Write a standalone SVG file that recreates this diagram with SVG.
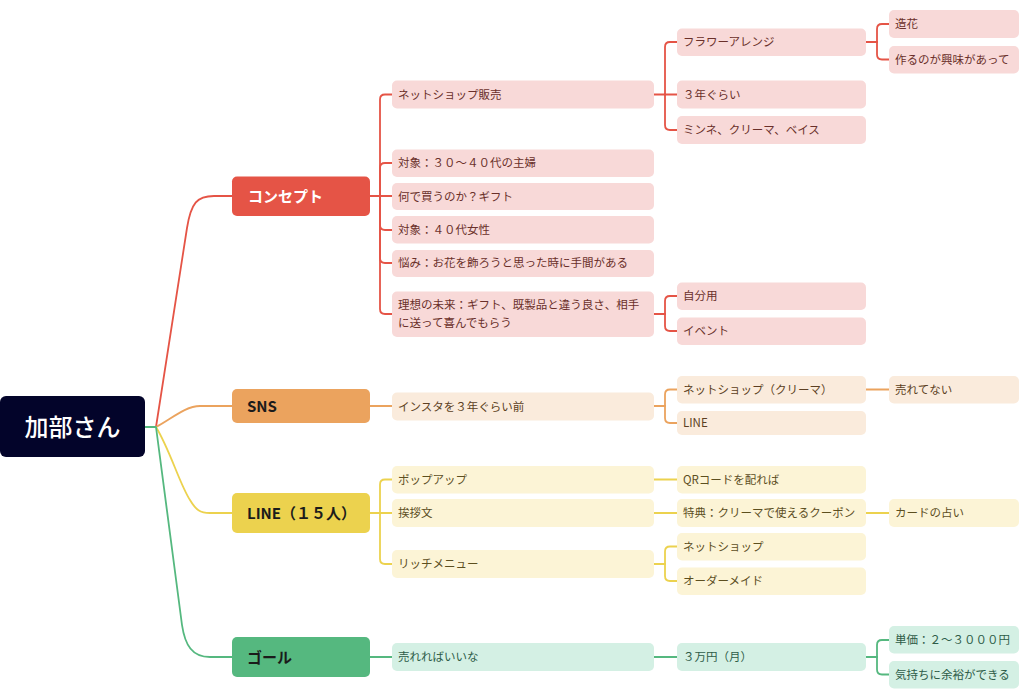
<svg xmlns="http://www.w3.org/2000/svg" width="1024" height="693" viewBox="0 0 1024 693">
<style>
text{font-family:"Noto Sans CJK JP","Noto Sans",sans-serif;}
.t{font-size:11.5px;}
.l1{font-size:15px;font-weight:700;}
.c{fill:none;stroke-width:1.8;stroke-linecap:round;stroke-linejoin:round;}
.cr{stroke:#E55446;} .co{stroke:#EBA35E;} .cy{stroke:#ECD24E;} .cg{stroke:#55B87F;}
.fr{fill:#F8D9D8;} .fo{fill:#FAEBDC;} .fy{fill:#FCF4D6;} .fg{fill:#D4F0E4;}
.tr{fill:#6a302a;} .to{fill:#5c3f22;} .ty{fill:#5c4f1f;} .tg{fill:#2e5c48;}
</style>
<rect width="1024" height="693" fill="#ffffff"/>
<g id="connectors">
<path class="c cr" d="M145 427 L156 427 L187 228 C191 203 197 196 214 196 L232 196"/>
<path class="c co" d="M156 427 C170 420 185 406 200 406 L232 406"/>
<path class="c cy" d="M156 427 C170 450 180 485 190 500 C196 510 200 513 210 513 L232 513"/>
<path class="c cg" d="M145 427 L156 427 L182 625 C185 645 192 657 210 657 L232 657"/>
<!-- concept -->
<path class="c cr" d="M370 196 L380 196"/>
<path class="c cr" d="M380 196 L380 99.5 Q380 94.5 385 94.5 L392 94.5"/>
<path class="c cr" d="M380 196 L380 168 Q380 163 385 163 L392 163"/>
<path class="c cr" d="M380 196 L392 196"/>
<path class="c cr" d="M380 196 L380 225 Q380 230 385 230 L392 230"/>
<path class="c cr" d="M380 196 L380 258 Q380 263 385 263 L392 263"/>
<path class="c cr" d="M380 196 L380 309 Q380 314 385 314 L392 314"/>
<path class="c cr" d="M654 94.5 L665 94.5"/>
<path class="c cr" d="M665 94.5 L665 47 Q665 42 670 42 L677 42"/>
<path class="c cr" d="M665 94.5 L677 94.5"/>
<path class="c cr" d="M665 94.5 L665 125 Q665 130 670 130 L677 130"/>
<path class="c cr" d="M866 42 L877 42"/>
<path class="c cr" d="M877 42 L877 29 Q877 24 882 24 L889 24"/>
<path class="c cr" d="M877 42 L877 54.5 Q877 59.5 882 59.5 L889 59.5"/>
<path class="c cr" d="M654 314 L665 314"/>
<path class="c cr" d="M665 314 L665 301 Q665 296 670 296 L677 296"/>
<path class="c cr" d="M665 314 L665 326 Q665 331 670 331 L677 331"/>
<!-- SNS -->
<path class="c co" d="M370 406 L392 406"/>
<path class="c co" d="M654 406 L665 406"/>
<path class="c co" d="M665 406 L665 394.5 Q665 389.5 670 389.5 L677 389.5"/>
<path class="c co" d="M665 406 L665 418 Q665 423 670 423 L677 423"/>
<path class="c co" d="M866 389.5 L889 389.5"/>
<!-- LINE -->
<path class="c cy" d="M370 513 L380 513"/>
<path class="c cy" d="M380 513 L380 484.5 Q380 479.5 385 479.5 L392 479.5"/>
<path class="c cy" d="M380 513 L392 513"/>
<path class="c cy" d="M380 513 L380 559 Q380 564 385 564 L392 564"/>
<path class="c cy" d="M654 479.5 L677 479.5"/>
<path class="c cy" d="M654 513 L677 513"/>
<path class="c cy" d="M866 513 L889 513"/>
<path class="c cy" d="M654 564 L665 564"/>
<path class="c cy" d="M665 564 L665 551.5 Q665 546.5 670 546.5 L677 546.5"/>
<path class="c cy" d="M665 564 L665 576 Q665 581 670 581 L677 581"/>
<!-- Goal -->
<path class="c cg" d="M370 657 L392 657"/>
<path class="c cg" d="M654 657 L677 657"/>
<path class="c cg" d="M866 657 L877 657"/>
<path class="c cg" d="M877 657 L877 645 Q877 640 882 640 L889 640"/>
<path class="c cg" d="M877 657 L877 669.5 Q877 674.5 882 674.5 L889 674.5"/>
</g>

<g id="root"><rect x="0" y="396" width="145" height="61" rx="6" fill="#03042A"/><text x="72.5" y="436" text-anchor="middle" font-size="24" font-weight="500" fill="#ffffff">加部さん</text></g>

<g id="n-concept"><rect x="232" y="176.5" width="138" height="39.5" rx="5" fill="#E55446"/><text class="l1" x="248" y="201.5" fill="#ffffff">コンセプト</text></g>
<g id="n-sns"><rect x="232" y="389" width="138" height="34" rx="5" fill="#EBA35E"/><text class="l1" x="247" y="411.5" fill="#1b1b1b">SNS</text></g>
<g id="n-line"><rect x="232" y="493" width="138" height="40" rx="5" fill="#ECD24E"/><text class="l1" x="247" y="518.5" fill="#1b1b1b">LINE（１５人）</text></g>
<g id="n-goal"><rect x="232" y="637" width="138" height="40" rx="5" fill="#55B87F"/><text class="l1" x="247" y="662.5" fill="#1b1b1b">ゴール</text></g>

<g id="n-netshop"><rect class="fr" x="392" y="80.5" width="262" height="28" rx="5"/><text class="t tr" x="398" y="98.5">ネットショップ販売</text></g>
<g id="n-target1"><rect class="fr" x="392" y="149.5" width="262" height="27.5" rx="5"/><text class="t tr" x="398" y="167">対象：３０～４０代の主婦</text></g>
<g id="n-why"><rect class="fr" x="392" y="183" width="262" height="27" rx="5"/><text class="t tr" x="398" y="200.5">何で買うのか？ギフト</text></g>
<g id="n-target2"><rect class="fr" x="392" y="216" width="262" height="27.5" rx="5"/><text class="t tr" x="398" y="234">対象：４０代女性</text></g>
<g id="n-worry"><rect class="fr" x="392" y="250" width="262" height="27" rx="5"/><text class="t tr" x="398" y="267">悩み：お花を飾ろうと思った時に手間がある</text></g>
<g id="n-ideal"><rect class="fr" x="392" y="291.5" width="262" height="45.5" rx="5"/><text class="t tr" x="398" y="309">理想の未来：ギフト、既製品と違う良さ、相手</text><text class="t tr" x="398" y="327">に送って喜んでもらう</text></g>

<g id="n-flower"><rect class="fr" x="677" y="28.5" width="189" height="27.5" rx="5"/><text class="t tr" x="683" y="46">フラワーアレンジ</text></g>
<g id="n-3years"><rect class="fr" x="677" y="80.5" width="189" height="28" rx="5"/><text class="t tr" x="683" y="98.5">３年ぐらい</text></g>
<g id="n-minne"><rect class="fr" x="677" y="116" width="189" height="28" rx="5"/><text class="t tr" x="683" y="134">ミンネ、クリーマ、ベイス</text></g>
<g id="n-zouka"><rect class="fr" x="889" y="10" width="130" height="28" rx="5"/><text class="t tr" x="895" y="28">造花</text></g>
<g id="n-tsukuru"><rect class="fr" x="889" y="46" width="130" height="27.5" rx="5"/><text class="t tr" x="895" y="63.5">作るのが興味があって</text></g>
<g id="n-jibun"><rect class="fr" x="677" y="282.5" width="189" height="27.5" rx="5"/><text class="t tr" x="683" y="300">自分用</text></g>
<g id="n-event"><rect class="fr" x="677" y="317.5" width="189" height="27.5" rx="5"/><text class="t tr" x="683" y="335">イベント</text></g>

<g id="n-insta"><rect class="fo" x="392" y="392.5" width="262" height="28" rx="5"/><text class="t to" x="398" y="410.5">インスタを３年ぐらい前</text></g>
<g id="n-netcreema"><rect class="fo" x="677" y="376" width="189" height="27.5" rx="5"/><text class="t to" x="683" y="393.5">ネットショップ（クリーマ）</text></g>
<g id="n-line2"><rect class="fo" x="677" y="411" width="189" height="24" rx="5"/><text class="t to" x="683" y="427">LINE</text></g>
<g id="n-urete"><rect class="fo" x="889" y="376" width="130" height="27.5" rx="5"/><text class="t to" x="895" y="393.5">売れてない</text></g>

<g id="n-popup"><rect class="fy" x="392" y="466" width="262" height="27.5" rx="5"/><text class="t ty" x="398" y="483.5">ポップアップ</text></g>
<g id="n-aisatsu"><rect class="fy" x="392" y="499" width="262" height="28" rx="5"/><text class="t ty" x="398" y="517">挨拶文</text></g>
<g id="n-rich"><rect class="fy" x="392" y="550" width="262" height="28" rx="5"/><text class="t ty" x="398" y="568">リッチメニュー</text></g>
<g id="n-qr"><rect class="fy" x="677" y="466" width="189" height="27.5" rx="5"/><text class="t ty" x="683" y="483.5">QRコードを配れば</text></g>
<g id="n-tokuten"><rect class="fy" x="677" y="499" width="189" height="28" rx="5"/><text class="t ty" x="683" y="517">特典：クリーマで使えるクーポン</text></g>
<g id="n-card"><rect class="fy" x="889" y="499" width="130" height="28" rx="5"/><text class="t ty" x="895" y="517">カードの占い</text></g>
<g id="n-netshop2"><rect class="fy" x="677" y="533" width="189" height="27.5" rx="5"/><text class="t ty" x="683" y="550.5">ネットショップ</text></g>
<g id="n-order"><rect class="fy" x="677" y="567.5" width="189" height="27.5" rx="5"/><text class="t ty" x="683" y="585">オーダーメイド</text></g>

<g id="n-ureba"><rect class="fg" x="392" y="643" width="262" height="28" rx="5"/><text class="t tg" x="398" y="661">売れればいいな</text></g>
<g id="n-3man"><rect class="fg" x="677" y="643" width="189" height="28" rx="5"/><text class="t tg" x="683" y="661">３万円（月）</text></g>
<g id="n-tanka"><rect class="fg" x="889" y="626" width="130" height="27.5" rx="5"/><text class="t tg" x="895" y="644">単価：２～３０００円</text></g>
<g id="n-kimochi"><rect class="fg" x="889" y="661" width="130" height="27.5" rx="5"/><text class="t tg" x="895" y="678.5">気持ちに余裕ができる</text></g>
</svg>
